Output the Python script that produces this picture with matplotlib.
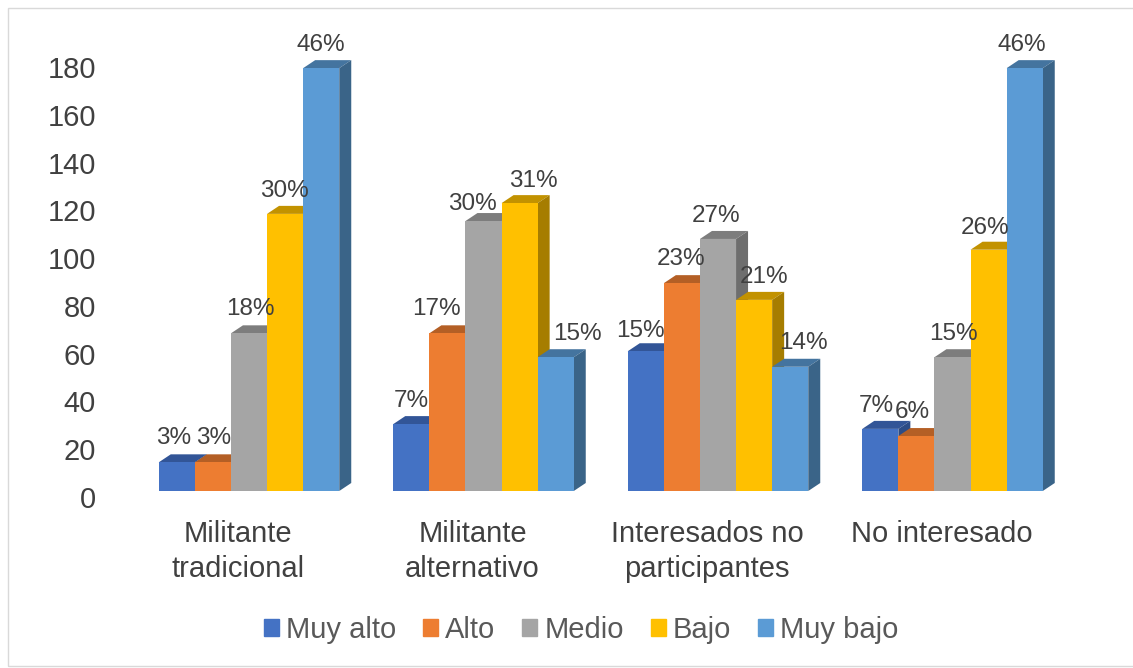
import matplotlib
matplotlib.use('Agg')
import matplotlib.pyplot as plt
from matplotlib.patches import Rectangle, Patch
from matplotlib.transforms import Affine2D
import numpy as np

plt.rcParams['font.family'] = ['Liberation Sans', 'DejaVu Sans']

categorias = ['Militante\ntradicional', 'Militante\nalternativo', 'Interesados no\nparticipantes', 'No interesado']
niveles = ['Muy alto', 'Alto', 'Medio', 'Bajo', 'Muy bajo']

muy_alto = [12, 28, 58.5, 26]
alto = [12, 66, 87, 23]
medio = [66, 113, 105.5, 56]
bajo = [116, 120.5, 80, 101]
muy_bajo = [177, 56, 52, 177]

pct_muy_alto = ['3%', '7%', '15%', '7%']
pct_alto = ['3%', '17%', '23%', '6%']
pct_medio = ['18%', '30%', '27%', '15%']
pct_bajo = ['30%', '31%', '21%', '26%']
pct_muy_bajo = ['46%', '15%', '14%', '46%']

series = [muy_alto, alto, medio, bajo, muy_bajo]
etiquetas = [pct_muy_alto, pct_alto, pct_medio, pct_bajo, pct_muy_bajo]

colores = ['#4472C4', '#ED7D31', '#A5A5A5', '#FFC000', '#5B9BD5']
techo = ['#325597', '#B45F25', '#7D7D7D', '#C29200', '#44749F']
lado = ['#2C4C86', '#9E5320', '#6E6E6E', '#A67D00', '#3A6488']

# ajuste a mano de las etiquetas (pixeles), igual que en el grafico original
nudge_x = [[-3, 0, -5, -4], [1, -11, -1, -4], [1, -11, -2, 1], [-1, 14, 10, -4], [0, 22, 13, -3]]
nudge_y = [[24, 23, 20, 23], [24, 24, 24, 24], [24, 17, 23, 23], [23, 22, 23, 22], [23, 23, 24, 23]]

W, H = 1133, 668
fig = plt.figure(figsize=(W / 100, H / 100), dpi=100)

# marco del grafico
fig.patches.append(Rectangle((8 / W, 1 - 666 / H), 1130 / W, 658 / H, transform=fig.transFigure,
                             fill=False, edgecolor='#D9D9D9', linewidth=1))

# eje: v=0 en y=497 px, 2.389 px por unidad; grupos cada 234.5 px
left, right, y0, y_top = 100, 1125, 497, 30
px_unit = 2.389
px_group = 234.5
ax = fig.add_axes([left / W, 1 - y0 / H, (right - left) / W, (y0 - y_top) / H])
ax.set_ylim(0, (y0 - y_top) / px_unit)
ax.set_xlim((left - 238) / px_group, (right - 238) / px_group)
ax.patch.set_visible(False)
for s in ax.spines.values():
    s.set_visible(False)

ax.set_yticks(np.arange(0, 181, 20))
ax.set_xticks(range(len(categorias)))
ax.set_xticklabels(categorias, fontsize=21, color='#404040', linespacing=1.34)
ax.tick_params(axis='x', length=0, pad=16.5)
ax.tick_params(axis='y', length=0, pad=3, labelsize=21, labelcolor='#404040')

ancho = 36.1 / px_group
frente = ax.transData + Affine2D().translate(11, 6)
fondo_dx, fondo_dy = 12 / px_group, 8 / px_unit

x = np.arange(len(categorias))
for j, valores in enumerate(series):
    xs = x + (j - 2) * ancho
    for i, v in enumerate(valores):
        x0, x1 = xs[i] - ancho / 2, xs[i] + ancho / 2
        ax.fill([x0, x1, x1 + fondo_dx, x0 + fondo_dx], [v, v, v + fondo_dy, v + fondo_dy],
                color=techo[j], lw=0, transform=frente, zorder=2 + j * 3)
        ax.fill([x1, x1 + fondo_dx, x1 + fondo_dx, x1], [0, fondo_dy, v + fondo_dy, v],
                color=lado[j], lw=0, transform=frente, zorder=2 + j * 3)
        ax.bar(xs[i], v, ancho, color=colores[j], lw=0, transform=frente, zorder=3 + j * 3)
        ax.annotate(etiquetas[j][i], (xs[i], v), xycoords=frente,
                    xytext=(nudge_x[j][i], nudge_y[j][i]), textcoords='offset pixels',
                    ha='center', va='center', fontsize=17.5, color='#404040', zorder=30)

handles = [Patch(color=c, label=n) for c, n in zip(colores, niveles)]
fig.legend(handles=handles, ncol=5, loc='center', bbox_to_anchor=(581 / W, 1 - 630 / H), frameon=False,
           fontsize=21, labelcolor='#595959', handlelength=0.52, handleheight=0.52,
           handletextpad=0.24, columnspacing=0.92)

fig.savefig('out.png', dpi=100)
